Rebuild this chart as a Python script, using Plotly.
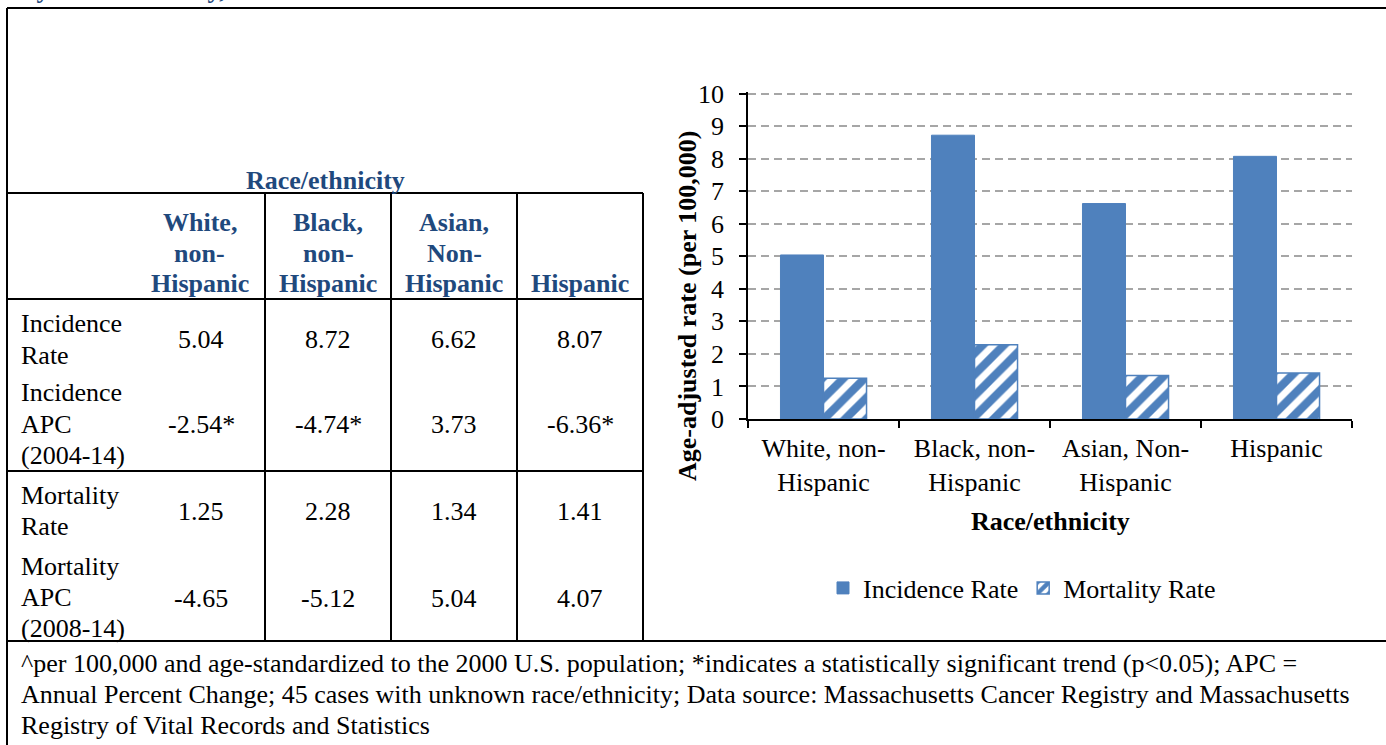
import plotly.graph_objects as go

# ---- data ----
groups = ["White, non-Hispanic", "Black, non-Hispanic", "Asian, Non-Hispanic", "Hispanic"]
axis_labels = ["White, non-<br>Hispanic", "Black, non-<br>Hispanic", "Asian, Non-<br>Hispanic", "Hispanic"]
header_labels = [["White,", "non-", "Hispanic"], ["Black,", "non-", "Hispanic"],
                 ["Asian,", "Non-", "Hispanic"], ["Hispanic"]]
incidence_rate = [5.04, 8.72, 6.62, 8.07]
incidence_apc = ["-2.54*", "-4.74*", "3.73", "-6.36*"]
mortality_rate = [1.25, 2.28, 1.34, 1.41]
mortality_apc = ["-4.65", "-5.12", "5.04", "4.07"]
row_labels = [["Incidence", "Rate"], ["Incidence", "APC", "(2004-14)"],
              ["Mortality", "Rate"], ["Mortality", "APC", "(2008-14)"]]
footnote_lines = [
    "^per 100,000 and age-standardized to the 2000 U.S. population; *indicates a statistically "
    "significant trend (p<0.05); APC =",
    "Annual Percent Change; 45 cases with unknown race/ethnicity; Data source: Massachusetts Cancer "
    "Registry and Massachusetts",
    "Registry of Vital Records and Statistics",
]

W, H = 1386, 745
SERIF = "Liberation Serif, Times New Roman, serif"
FS = 26
BLUE = "#4F81BD"
NAVY = "#1F497D"


def px(x):
    return x / W


def py(y):
    return 1 - y / H


fig = go.Figure()

fig.add_trace(go.Bar(
    x=groups, y=incidence_rate, name="Incidence Rate",
    marker=dict(color=BLUE, line=dict(color=BLUE, width=1)),
))
fig.add_trace(go.Bar(
    x=groups, y=mortality_rate, name="Mortality Rate",
    marker=dict(color="white", line=dict(color=BLUE, width=1.5),
                pattern=dict(shape="/", fgcolor=BLUE, fgopacity=1, bgcolor="white",
                             size=15, solidity=0.55)),
))

shapes = []


def hline(y, x0, x1, w=2):
    shapes.append(dict(type="line", xref="paper", yref="paper", x0=px(x0), x1=px(x1),
                       y0=py(y), y1=py(y), line=dict(color="black", width=w)))


def vline(x, y0, y1, w=2):
    shapes.append(dict(type="line", xref="paper", yref="paper", x0=px(x), x1=px(x),
                       y0=py(y0), y1=py(y1), line=dict(color="black", width=w)))


# page frame and table grid
hline(8, 7, W)
hline(641, 7, W)
vline(7, 8, H)
for yy in (193, 299, 471):
    hline(yy, 7, 643)
for xx in (265, 391, 517, 643):
    vline(xx, 193, 641)

annotations = []


def text(x, y, s, size=FS, color="black", bold=False, xanchor="center", yanchor="middle", **kw):
    if bold:
        s = "<b>" + s + "</b>"
    annotations.append(dict(x=px(x), y=py(y), xref="paper", yref="paper", text=s, showarrow=False,
                            xanchor=xanchor, yanchor=yanchor,
                            font=dict(family=SERIF, size=size, color=color), **kw))


def block(x, y_last, lines, step, **kw):
    # stacked lines whose last line sits at y_last
    n = len(lines)
    for k, s in enumerate(lines):
        text(x, y_last - (n - 1 - k) * step, s, **kw)


# heading running off the top of the page
text(20, 0, "by Race/Ethnicity,", color=NAVY, bold=True, xanchor="left", yanchor="bottom", yshift=-6)

# table header
text(325, 180, "Race/ethnicity", color=NAVY, bold=True)
col_centers = [201, 328, 454, 580]
header_x = [200, 328, 454, 580]
for i in range(4):
    block(header_x[i], 283, header_labels[i], 30, color=NAVY, bold=True)

# table body
row_first = [324, 393, 495, 566]
row_value = [339, 425, 511, 598]
rows = [[f"{v:.2f}" for v in incidence_rate], incidence_apc,
        [f"{v:.2f}" for v in mortality_rate], mortality_apc]
for r in range(4):
    for k, s in enumerate(row_labels[r]):
        text(19, row_first[r] + 31 * k, s, xanchor="left")
    for c in range(4):
        text(col_centers[c], row_value[r], rows[r][c])

# chart titles
text(688, 306, "Age-adjusted rate (per 100,000)", bold=True, textangle=-90)
text(1050, 521, "Race/ethnicity", bold=True)

# footnote
for k, s in enumerate(footnote_lines):
    text(19, 663 + 31 * k, s, xanchor="left")

fig.update_layout(
    width=W, height=H,
    margin=dict(l=0, r=0, t=0, b=0, autoexpand=False),
    paper_bgcolor="white", plot_bgcolor="white",
    barmode="group", bargap=0.43, bargroupgap=0,
    shapes=shapes, annotations=annotations,
    font=dict(family=SERIF, size=FS, color="black"),
    showlegend=True,
    legend=dict(orientation="h", x=px(1022), xanchor="center", y=py(588), yanchor="middle",
                font=dict(family=SERIF, size=FS, color="black"), bgcolor="rgba(0,0,0,0)",
                itemwidth=30, traceorder="normal"),
    xaxis=dict(domain=[px(748), px(1352)], type="category", tickson="boundaries",
               ticks="outside", ticklen=7, tickwidth=1.5, tickcolor="black",
               ticklabelstandoff=5,
               showline=True, linecolor="black", linewidth=1.5,
               tickmode="array", tickvals=groups, ticktext=axis_labels,
               tickfont=dict(family=SERIF, size=FS, color="black"), showgrid=False),
    yaxis=dict(domain=[py(419), py(91.9)], range=[0, 10.05], tickmode="array",
               tickvals=list(range(11)),
               ticks="outside", ticklen=7, tickwidth=1.5, tickcolor="black",
               ticklabelstandoff=10,
               showline=True, linecolor="black", linewidth=1.5, zeroline=False,
               showgrid=True, gridcolor="#A6A6A6", gridwidth=1.5, griddash="8px,5px",
               tickfont=dict(family=SERIF, size=FS, color="black")),
)

fig.write_html("out.html")
